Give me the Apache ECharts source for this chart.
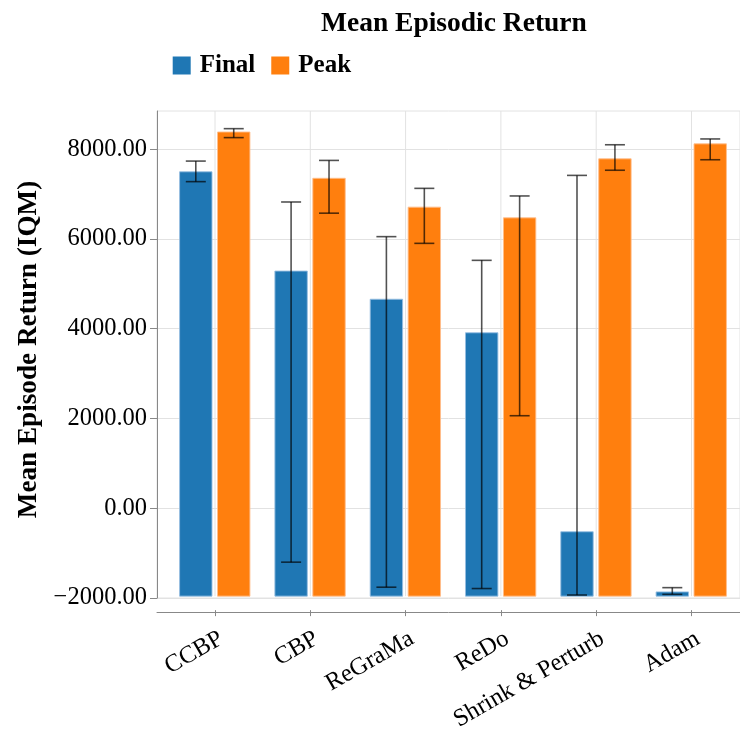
<!DOCTYPE html>
<html>
<head>
<meta charset="utf-8">
<script src="https://cdn.jsdelivr.net/npm/echarts@6/dist/echarts.min.js"></script>
<style>
  html, body { margin: 0; padding: 0; background: #fff; }
  #chart { width: 740px; height: 734px; }
</style>
</head>
<body>
<div id="chart"></div>
<script>
// Interquartile-mean episode return per optimiser, with confidence intervals
const categories = ['CCBP', 'CBP', 'ReGraMa', 'ReDo', 'Shrink & Perturb', 'Adam'];

const finalMean = [7490, 5270, 4640, 3890, -560, -1905];
const finalLow  = [7270, -1240, -1800, -1830, -1975, -1960];
const finalHigh = [7730, 6815, 6040, 5510, 7410, -1810];

const peakMean = [8380, 7345, 6700, 6460, 7780, 8115];
const peakLow  = [8255, 6565, 5890, 2035, 7525, 7760];
const peakHigh = [8455, 7745, 7120, 6950, 8095, 8225];

const yTicks = [-2000, 0, 2000, 4000, 6000, 8000];
const yMin = -2000;
const yMax = 8850;

const SERIF = "'Liberation Serif', 'Times New Roman', 'DejaVu Serif', serif";
const GRID_LINE = '#e2e2e2';
const AXIS_LINE = '#888888';
const ERR_COLOR = 'rgba(0,0,0,0.68)';

// Bars rise from the bottom of the value domain; each item carries its interval
function barRenderer(offsetFrac, edgeColor) {
  return function (params, api) {
    const i = api.value(0);
    const band = api.size([1, 0])[0];
    const cx = api.coord([i, 0])[0] + offsetFrac * band;
    const w = band * 0.34;
    const top = api.coord([i, api.value(1)])[1];
    const base = api.coord([i, yMin])[1];
    const yLo = api.coord([i, api.value(2)])[1];
    const yHi = api.coord([i, api.value(3)])[1];
    const cap = 10;
    const errStyle = { stroke: ERR_COLOR, lineWidth: 1.6 };
    return {
      type: 'group',
      children: [
        { type: 'rect', shape: { x: cx - w / 2, y: top, width: w, height: base - top },
          style: { fill: api.visual('color'), stroke: edgeColor, lineWidth: 1 } },
        { type: 'line', shape: { x1: cx, y1: yHi, x2: cx, y2: yLo }, style: errStyle },
        { type: 'line', shape: { x1: cx - cap, y1: yHi, x2: cx + cap, y2: yHi }, style: errStyle },
        { type: 'line', shape: { x1: cx - cap, y1: yLo, x2: cx + cap, y2: yLo }, style: errStyle }
      ]
    };
  };
}

// Vertical guide through the middle of each category band
function guideRenderer(params, api) {
  const i = api.value(0);
  const x = api.coord([i, 0])[0];
  return {
    type: 'line',
    shape: { x1: x, y1: api.coord([i, yMax])[1], x2: x, y2: api.coord([i, yMin])[1] },
    style: { stroke: GRID_LINE, lineWidth: 1 }
  };
}

const chart = echarts.init(document.getElementById('chart'), null, { renderer: 'canvas' });

const gridTop = 111;
const gridHeight = 487;

chart.setOption({
  animation: false,
  backgroundColor: '#ffffff',
  title: {
    text: 'Mean Episodic Return',
    left: 316,
    top: 5,
    textStyle: { fontFamily: SERIF, fontWeight: 'bold', fontSize: 27.5, color: '#000' }
  },
  legend: {
    data: ['Final', 'Peak'],
    left: 172.7,
    top: 53,
    padding: 0,
    icon: 'rect',
    itemWidth: 18,
    itemHeight: 18,
    itemGap: 16,
    textStyle: { fontFamily: SERIF, fontWeight: 'bold', fontSize: 25, color: '#000', padding: [0, 0, 0, 4] }
  },
  grid: [
    { left: 157, top: gridTop, width: 584, height: gridHeight, show: true, borderColor: GRID_LINE, borderWidth: 1 },
    { left: 167.35, top: gridTop, width: 571.8, height: gridHeight }
  ],
  xAxis: [
    { gridIndex: 0, type: 'category', data: [''], offset: 14,
      axisLine: { show: true, onZero: false, lineStyle: { color: AXIS_LINE, width: 1 } },
      axisTick: { show: false }, axisLabel: { show: false }, splitLine: { show: false } },
    { gridIndex: 1, type: 'category', data: categories, offset: 14,
      axisLine: { show: false, onZero: false },
      axisTick: { show: true, alignWithLabel: true, length: 6, lineStyle: { color: AXIS_LINE } },
      axisLabel: { rotate: 30, verticalAlign: 'top', align: 'right', fontFamily: SERIF, fontSize: 24.6,
        color: '#000', margin: 16 },
      splitLine: { show: false } }
  ],
  yAxis: [
    { gridIndex: 0, type: 'value', min: yMin, max: yMax, interval: 2000,
      name: 'Mean Episode Return (IQM)', nameLocation: 'middle', nameGap: 115,
      nameTextStyle: { fontFamily: SERIF, fontWeight: 'bold', fontSize: 27.2, color: '#000', padding: [0, 0, 0, 10] },
      axisLine: { show: true, lineStyle: { color: AXIS_LINE, width: 1 } },
      axisTick: { show: true, length: 7, customValues: yTicks, lineStyle: { color: AXIS_LINE } },
      axisLabel: { customValues: yTicks, fontFamily: SERIF, fontSize: 24.5, color: '#000', margin: 10,
        formatter: v => (v < 0 ? '\u2212' : '') + Math.abs(v).toFixed(2) },
      splitLine: { show: true, lineStyle: { color: GRID_LINE, width: 1 } } },
    { gridIndex: 1, type: 'value', min: yMin, max: yMax, show: false }
  ],
  series: [
    { type: 'custom', name: 'guides', xAxisIndex: 1, yAxisIndex: 1, z: 1, silent: true,
      renderItem: guideRenderer, data: categories.map((c, i) => [i]) },
    { type: 'custom', name: 'Final', xAxisIndex: 1, yAxisIndex: 1, z: 3,
      itemStyle: { color: '#1f77b4' },
      renderItem: barRenderer(-0.2015, 'rgba(150,190,225,0.9)'),
      encode: { x: 0, y: 1 },
      data: categories.map((c, i) => [i, finalMean[i], finalLow[i], finalHigh[i]]) },
    { type: 'custom', name: 'Peak', xAxisIndex: 1, yAxisIndex: 1, z: 3,
      itemStyle: { color: '#ff7f0e' },
      renderItem: barRenderer(0.1965, 'rgba(255,190,140,0.9)'),
      encode: { x: 0, y: 1 },
      data: categories.map((c, i) => [i, peakMean[i], peakLow[i], peakHigh[i]]) }
  ]
});
</script>
</body>
</html>
